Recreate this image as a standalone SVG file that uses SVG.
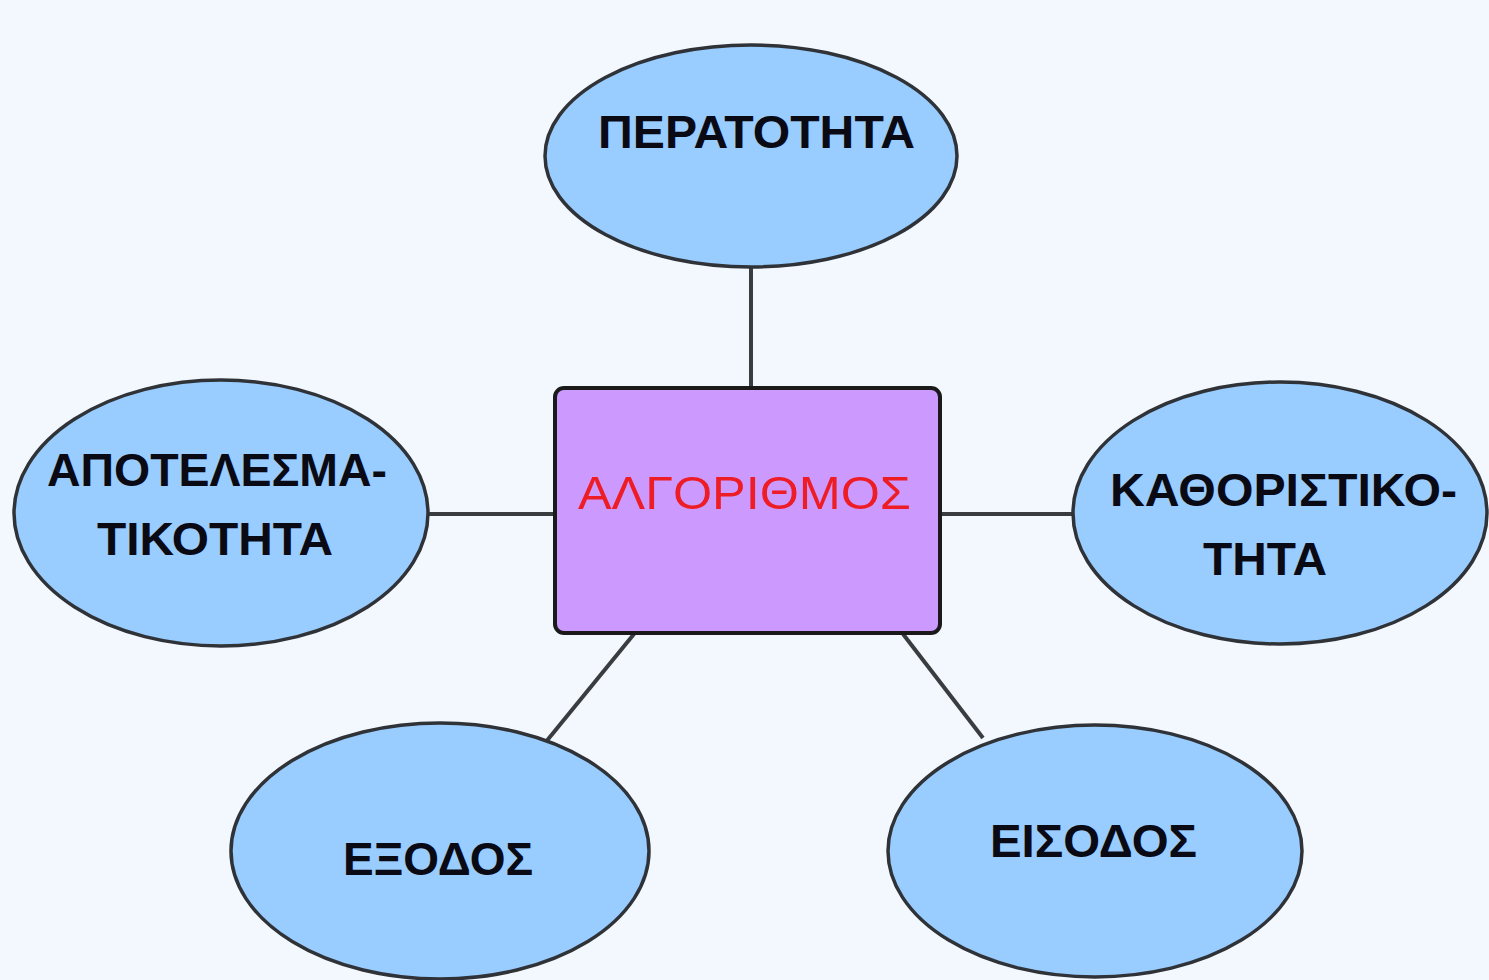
<svg xmlns="http://www.w3.org/2000/svg" width="1489" height="980" viewBox="0 0 1489 980">
<style>
.bg{fill:#F2F8FE}
.ell{fill:#99CCFF;stroke:#2f3338;stroke-width:3.5}
.box{fill:#CC99FF;stroke:#1a1a1a;stroke-width:4}
.conn{stroke:#3a3d40;stroke-width:4;fill:none}
.t{font-family:"Liberation Sans",Arial,sans-serif;font-weight:bold;font-size:46px;fill:#0a0a14}
.c{font-family:"Liberation Sans",Arial,sans-serif;font-size:46px;fill:#EE1C25}
</style>
<rect class="bg" x="0" y="0" width="1489" height="980"/>
<g id="connectors">
<line class="conn" x1="751" y1="268" x2="751" y2="388"/>
<line class="conn" x1="428" y1="514" x2="555" y2="514"/>
<line class="conn" x1="940" y1="514" x2="1074" y2="514"/>
<line class="conn" x1="634" y1="634" x2="545" y2="743"/>
<line class="conn" x1="903" y1="634" x2="983" y2="738"/>
</g>
<g id="node-center">
<rect class="box" x="555" y="388" width="385" height="245" rx="9"/>
<text class="c" x="578" y="509" textLength="333" lengthAdjust="spacingAndGlyphs">ΑΛΓΟΡΙΘΜΟΣ</text>
</g>
<g id="node-top">
<ellipse class="ell" cx="751" cy="156" rx="206" ry="111"/>
<text class="t" x="598" y="148" textLength="317" lengthAdjust="spacingAndGlyphs">ΠΕΡΑΤΟΤΗΤΑ</text>
</g>
<g id="node-left">
<ellipse class="ell" cx="221" cy="513" rx="207" ry="133"/>
<text class="t" x="47" y="486" textLength="340" lengthAdjust="spacingAndGlyphs">ΑΠΟΤΕΛΕΣΜΑ-</text>
<text class="t" x="97" y="555" textLength="236" lengthAdjust="spacingAndGlyphs">ΤΙΚΟΤΗΤΑ</text>
</g>
<g id="node-right">
<ellipse class="ell" cx="1280" cy="513" rx="207" ry="131"/>
<text class="t" x="1110" y="506" textLength="347" lengthAdjust="spacingAndGlyphs">ΚΑΘΟΡΙΣΤΙΚΟ-</text>
<text class="t" x="1203" y="575" textLength="124" lengthAdjust="spacingAndGlyphs">ΤΗΤΑ</text>
</g>
<g id="node-bottom-left">
<ellipse class="ell" cx="440" cy="851" rx="209" ry="128"/>
<text class="t" x="343" y="875" textLength="190" lengthAdjust="spacingAndGlyphs">ΕΞΟΔΟΣ</text>
</g>
<g id="node-bottom-right">
<ellipse class="ell" cx="1095" cy="851" rx="207" ry="126"/>
<text class="t" x="990" y="857" textLength="207" lengthAdjust="spacingAndGlyphs">ΕΙΣΟΔΟΣ</text>
</g>
</svg>
